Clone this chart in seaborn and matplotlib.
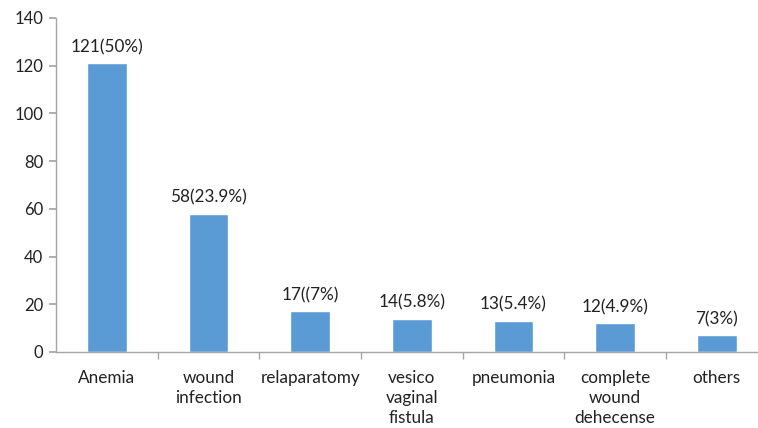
import matplotlib
matplotlib.use("Agg")
import matplotlib.pyplot as plt
import seaborn as sns
import pandas as pd

categories = ["Anemia", "wound\ninfection", "relaparatomy", "vesico\nvaginal\nfistula",
              "pneumonia", "complete\nwound\ndehecense", "others"]
counts = [121, 58, 17, 14, 13, 12, 7]
value_labels = ["121(50%)", "58(23.9%)", "17((7%)", "14(5.8%)", "13(5.4%)", "12(4.9%)", "7(3%)"]
y_ticks = [0, 20, 40, 60, 80, 100, 120, 140]

sns.set_theme(style="white")
plt.rcParams["font.family"] = ["Lato", "DejaVu Sans"]

df = pd.DataFrame({"complication": categories, "count": counts})

fig = plt.figure(figsize=(7.58, 4.28), dpi=100)
ax = fig.add_axes([56 / 758, 76 / 428, 711.6 / 758, 334 / 428])

sns.barplot(data=df, x="complication", y="count", color="#5B9BD5", width=0.39,
            saturation=1, ax=ax)

for i, (v, lab) in enumerate(zip(counts, value_labels)):
    ax.annotate(lab, (i, v), xytext=(0, 6), textcoords="offset points",
                ha="center", va="bottom", fontsize=12.3, color="#222222")

ax.set_ylim(0, 140)
ax.set_xlim(-0.5, len(categories) - 0.5)
ax.set_yticks(y_ticks)
ax.set_xticks([i - 0.5 for i in range(1, len(categories))], minor=True)
ax.set_xlabel("")
ax.set_ylabel("")

for s in ["top", "right"]:
    ax.spines[s].set_visible(False)
for s in ["left", "bottom"]:
    ax.spines[s].set_color("#A6A6A6")
    ax.spines[s].set_linewidth(1.0)

ax.tick_params(axis="y", which="major", left=True, length=5, color="#A6A6A6",
               labelsize=12, labelcolor="#222222", pad=4)
ax.tick_params(axis="x", which="major", bottom=False, labelsize=12.3,
               labelcolor="#222222", pad=7)
ax.tick_params(axis="x", which="minor", bottom=True, length=5, color="#A6A6A6")
for t in ax.get_xticklabels():
    t.set_linespacing(1.3)

fig.savefig("out.png", dpi=100)
